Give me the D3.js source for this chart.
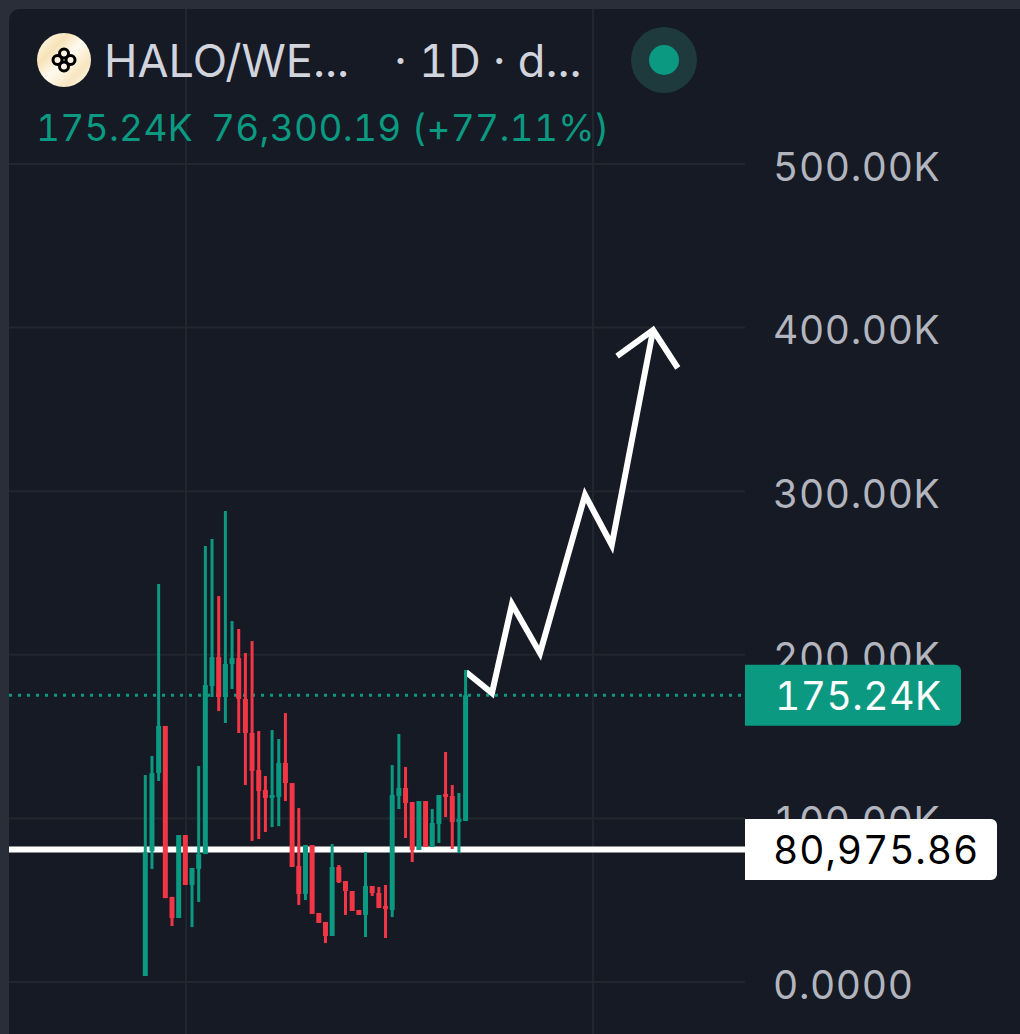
<!DOCTYPE html>
<html>
<head>
<meta charset="utf-8" />
<title>HALO/WE 1D</title>
<style>
  html, body { margin: 0; padding: 0; background: #2a2e39; }
  svg { display: block; font-family: Inter, "Noto Sans", sans-serif; font-variant-numeric: tabular-nums; }
</style>
<script src="https://cdn.jsdelivr.net/npm/d3@7"></script>
</head>
<body>
<svg id="chart" width="1020" height="1034"></svg>
<script>
// candle values in thousands
const opens = [3.7,80.1,127.7,156.5,52,39.1,89.8,59.3,69.1,78.2,180.9,198.6,174.2,194.4,198,173,152.2,129.6,117.4,112.5,113.1,133.9,121.6,70.9,53.8,83.7,42.2,36.7,28.1,70.3,61.7,55.6,44,41,58.7,54.4,46.5,44,113.7,118.6,110,80.7,110.6,82.5,96.6,114.9,113.7,97.8,98.4];
const highs = [126.5,138.1,243.3,156.5,52,89.8,89.8,69.7,132,266.5,270.8,235.9,287.9,220.6,215.8,201.1,208.4,153.4,125.9,154,148.5,164.4,121.6,106.3,83.7,83.7,42.2,36.7,84.3,71.5,61.7,55.6,44,79.5,58.7,58.1,59.3,132.6,151.6,131.4,110,110.6,110.6,105.7,114.3,140.6,120.4,115.5,190.7];
const lows = [3.7,69.1,122.9,51.3,34.2,39.1,59.3,33.6,48.9,78.2,174.2,165.6,158.3,179.1,152.2,120.4,86.2,87.4,91.7,94.7,95.3,110.6,70.3,47.1,50.1,41.6,36.1,23.8,28.1,60.5,41,43.4,41,27.5,52.6,45.2,26.9,39.7,105.7,88,73.3,80.7,82.5,82.5,85,100.8,81.3,78.8,98.4];
const closes = [79.5,127.7,156.5,51.3,39.1,89.8,59.3,69.7,78.2,181.5,198.6,174.2,194.4,198,173,152.2,129,116.7,112.5,114.3,133.9,121.6,70.3,53.8,83.7,41.6,36.1,28.1,70.3,61.1,55.6,43.4,41,58.7,54.4,45.2,44.6,114.3,118.6,109.4,80.7,110.6,82.5,97.2,114.3,113.1,97.8,99.6,175.24];

const priceTicks = [0,100,200,300,400,500];
const priceLabels = ["0.0000","100.00K","200.00K","300.00K","400.00K","500.00K"];
const timeGrid = [6.1,67.1];

const lastPrice = 175.24;
const markedPrice = 80.97586;

// hand drawn arrow, candle index and price
const arrowIdx = [48.06,51.95,54.95,59.15,65.9,69.9,76.1];
const arrowVal = [189.5,176.6,231,201,297.7,267.1,398.5];
const headIdx = [70.7,76.1,79.8];
const headVal = [382.6,398.5,375.3];

const green = "#0b9981", red = "#f23645", bg = "#161a25", gridCol = "#22262f";

const svg = d3.select("#chart");
const x = d3.scaleLinear().domain([0,48]).range([145.3,465.6]);
const y = d3.scaleLinear().domain([0,500]).range([982,164]);

const paneL = 9, paneR = 745;

// pane
svg.append("rect").attr("width",1020).attr("height",1034).attr("fill","#2a2e39");
svg.append("path")
  .attr("d","M9,1034V20A11,11 0 0 1 20,9H1020V1034Z")
  .attr("fill",bg);

// grid
svg.append("g").selectAll("line").data(timeGrid).join("line")
  .attr("x1",d=>x(d)).attr("x2",d=>x(d)).attr("y1",9).attr("y2",1034)
  .attr("stroke",gridCol).attr("stroke-width",2);
svg.append("g").selectAll("line").data(priceTicks).join("line")
  .attr("x1",paneL).attr("x2",paneR).attr("y1",d=>y(d)).attr("y2",d=>y(d))
  .attr("stroke",gridCol).attr("stroke-width",2);

// price axis labels
const axis = d3.axisRight(y).tickValues(priceTicks).tickSize(0).tickPadding(0)
  .tickFormat((d,i)=>priceLabels[i]);
const axisG = svg.append("g").attr("transform","translate(773,0)").call(axis);
axisG.select(".domain").remove();
axisG.selectAll("text")
  .attr("font-family","Inter, sans-serif").attr("font-size",39).attr("fill","#b2b5be")
  .attr("letter-spacing",0.6).attr("dy","0.41em");

// last price dotted line
svg.append("line")
  .attr("x1",paneL).attr("x2",paneR).attr("y1",y(lastPrice)).attr("y2",y(lastPrice))
  .attr("stroke",green).attr("stroke-width",3).attr("stroke-dasharray","3 6");

// marked level
svg.append("line")
  .attr("x1",paneL).attr("x2",paneR).attr("y1",y(markedPrice)).attr("y2",y(markedPrice))
  .attr("stroke","#fff").attr("stroke-width",6);

// arrow
const line = d3.line().x(d=>x(d[0])).y(d=>y(d[1]));
[d3.zip(arrowIdx,arrowVal), d3.zip(headIdx,headVal)].forEach(pts => {
  svg.append("path").attr("d",line(pts)).attr("fill","none")
    .attr("stroke","#fff").attr("stroke-width",6).attr("stroke-linejoin","miter");
});

// candles
const candles = svg.append("g").selectAll("g").data(opens).join("g")
  .attr("fill",(d,i)=>closes[i]>=opens[i]?green:red);
candles.append("rect")
  .attr("x",(d,i)=>x(i)-1.5).attr("width",3)
  .attr("y",(d,i)=>y(highs[i])).attr("height",(d,i)=>y(lows[i])-y(highs[i]));
candles.append("rect")
  .attr("x",(d,i)=>x(i)-2.5).attr("width",5)
  .attr("y",(d,i)=>y(Math.max(opens[i],closes[i])))
  .attr("height",(d,i)=>Math.abs(y(opens[i])-y(closes[i])));

// price badges
function badge(val, w, fill, col, label, tx, spacing) {
  const t = y(val)-30.5, h = 61, r = 6;
  svg.append("path")
    .attr("d",`M${paneR},${t}H${paneR+w-r}a${r},${r} 0 0 1 ${r},${r}V${t+h-r}a${r},${r} 0 0 1 ${-r},${r}H${paneR}Z`)
    .attr("fill",fill);
  svg.append("text").attr("x",tx).attr("y",y(val)).attr("dy","0.37em")
    .attr("font-size",39).attr("letter-spacing",spacing).attr("fill",col).text(label);
}
badge(lastPrice,216,green,"#fff","175.24K",775,0.5);
badge(markedPrice,252,"#fff","#000","80,975.86",773,0.9);

// header
const defs = svg.append("defs");
const grad = defs.append("linearGradient").attr("id","logoFill")
  .attr("x1",0).attr("y1",0).attr("x2",1).attr("y2",1);
[[0,"#fffdf5"],[0.3,"#f8e3b8"],[0.5,"#fffaf0"],[0.75,"#f9e6c0"],[1,"#fffdf5"]].forEach(s => {
  grad.append("stop").attr("offset",s[0]).attr("stop-color",s[1]);
});
const logo = svg.append("g").attr("transform","translate(64,60)");
logo.append("circle").attr("r",27).attr("fill","url(#logoFill)");
[[0,-6.5],[6.5,0],[0,6.5],[-6.5,0]].forEach(p => {
  logo.append("circle").attr("cx",p[0]).attr("cy",p[1]).attr("r",4.5)
    .attr("fill","none").attr("stroke","#000").attr("stroke-width",3);
});

svg.append("text").attr("x",104).attr("y",77).attr("font-size",45).attr("fill","#d1d4dc").text("HALO/WE...");
svg.append("text").attr("x",394).attr("y",77).attr("font-size",45).attr("fill","#d1d4dc").text("· 1D · d...");
svg.append("text").attr("x",36).attr("y",141).attr("font-size",37).attr("letter-spacing",0.3).attr("fill",green).text("175.24K");
svg.append("text").attr("x",211).attr("y",141).attr("font-size",37).attr("letter-spacing",0.3).attr("fill",green).text("76,300.19 (+77.11%)");

svg.append("circle").attr("cx",664).attr("cy",60).attr("r",33).attr("fill","#1e3a3d");
svg.append("circle").attr("cx",664).attr("cy",60).attr("r",15).attr("fill",green);
</script>
</body>
</html>
